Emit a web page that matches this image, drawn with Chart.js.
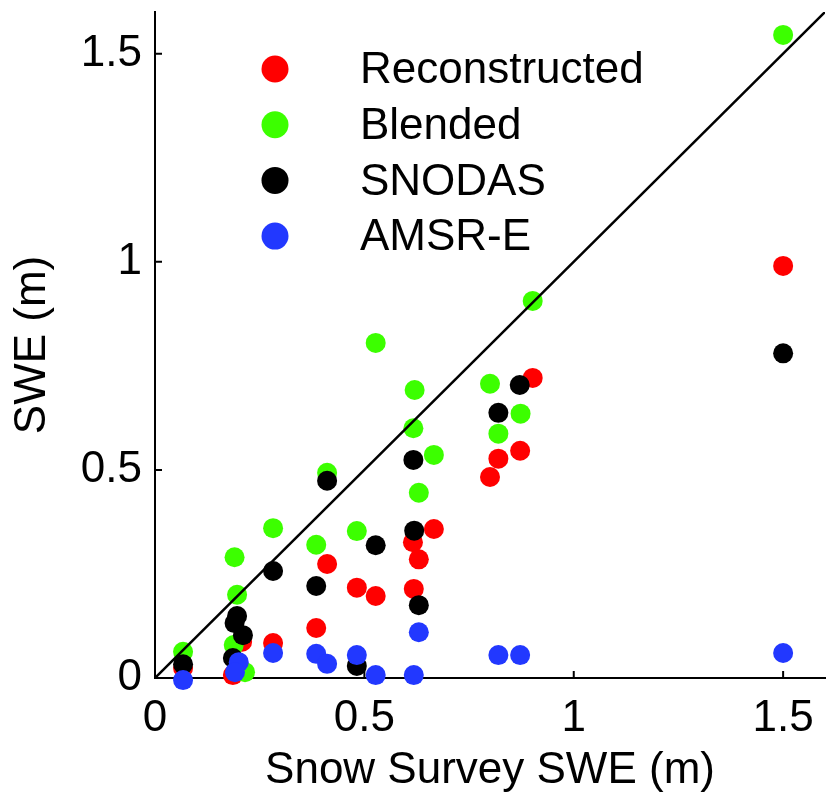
<!DOCTYPE html>
<html>
<head>
<meta charset="utf-8">
<script src="https://cdn.jsdelivr.net/npm/chart.js@4.4.1/dist/chart.umd.min.js"></script>
<style>
  html, body { margin: 0; padding: 0; background: #fff; }
  canvas { display: block; }
</style>
</head>
<body>
<canvas id="sweChart" width="827" height="799"></canvas>
<script>
// series labels (legend order)
const seriesNames = ['Reconstructed', 'Blended', 'SNODAS', 'AMSR-E'];

// snow survey SWE (m) vs product SWE (m)
const reconX = [0.067, 0.186, 0.208, 0.282, 0.385, 0.411, 0.482, 0.527, 0.618, 0.616, 0.630, 0.666, 0.800, 0.820, 0.872, 0.902, 1.500];
const reconY = [0.024, 0.007, 0.087, 0.084, 0.120, 0.274, 0.217, 0.197, 0.214, 0.326, 0.285, 0.358, 0.483, 0.527, 0.546, 0.721, 0.990];

const blendX = [0.067, 0.190, 0.196, 0.188, 0.215, 0.282, 0.385, 0.411, 0.482, 0.527, 0.620, 0.617, 0.630, 0.666, 0.800, 0.820, 0.873, 0.902, 1.500];
const blendY = [0.063, 0.290, 0.200, 0.079, 0.014, 0.360, 0.320, 0.493, 0.353, 0.805, 0.692, 0.600, 0.445, 0.536, 0.707, 0.587, 0.635, 0.906, 1.545];

const snodasX = [0.067, 0.196, 0.190, 0.210, 0.186, 0.282, 0.385, 0.411, 0.482, 0.527, 0.617, 0.619, 0.630, 0.820, 0.871, 1.500];
const snodasY = [0.033, 0.149, 0.132, 0.103, 0.048, 0.257, 0.221, 0.474, 0.029, 0.319, 0.524, 0.354, 0.175, 0.637, 0.704, 0.780];

const amsrX = [0.067, 0.200, 0.191, 0.282, 0.385, 0.411, 0.482, 0.527, 0.618, 0.630, 0.820, 0.872, 1.500];
const amsrY = [-0.005, 0.038, 0.014, 0.060, 0.058, 0.034, 0.055, 0.007, 0.007, 0.110, 0.055, 0.055, 0.060];

// 1:1 line
const oneToOneX = [0, 1.6];
const oneToOneY = [0, 1.6];

// ticks
const xTicks = [0, 0.5, 1, 1.5];
const yTicks = [0, 0.5, 1, 1.5];
const tickLabels = ['0', '0.5', '1', '1.5'];

const colors = ['#ff0000', '#3cff00', '#000000', '#2238ff'];

function pts(xs, ys) {
    return xs.map((x, i) => ({ x: x, y: ys[i] }));
}

Chart.defaults.font.family = '"Liberation Sans", Arial, Helvetica, sans-serif';
Chart.defaults.font.size = 44;
Chart.defaults.color = '#000';

// inward tick marks + legend inside the axes
const overlay = {
    id: 'overlay',
    afterDatasetsDraw(chart) {
        const ctx = chart.ctx;
        const xs = chart.scales.x, ys = chart.scales.y;
        const area = chart.chartArea;
        ctx.save();
        ctx.strokeStyle = '#000';
        ctx.lineWidth = 2;
        ctx.beginPath();
        xTicks.forEach(v => {
            const px = xs.getPixelForValue(v);
            ctx.moveTo(px, area.bottom);
            ctx.lineTo(px, area.bottom - 7);
        });
        yTicks.forEach(v => {
            const py = ys.getPixelForValue(v);
            ctx.moveTo(area.left, py);
            ctx.lineTo(area.left + 7, py);
        });
        ctx.stroke();

        // legend
        ctx.font = '44px "Liberation Sans", Arial, Helvetica, sans-serif';
        ctx.textBaseline = 'middle';
        ctx.textAlign = 'left';
        seriesNames.forEach((name, i) => {
            const cy = area.top + 57 + i * 55.7;
            ctx.fillStyle = colors[i];
            ctx.beginPath();
            ctx.arc(area.left + 120, cy, 13.5, 0, Math.PI * 2);
            ctx.fill();
            ctx.fillStyle = '#000';
            ctx.fillText(name, area.left + 205, cy + 2);
        });
        ctx.restore();
    }
};

const seriesX = [reconX, blendX, snodasX, amsrX];
const seriesY = [reconY, blendY, snodasY, amsrY];

const datasets = seriesNames.map((name, i) => ({
    label: name,
    data: pts(seriesX[i], seriesY[i]),
    backgroundColor: colors[i],
    borderWidth: 0,
    pointRadius: 10,
    pointHoverRadius: 10,
    clip: false,
    order: 4 - i
}));

datasets.push({
    type: 'line',
    label: '1:1',
    data: pts(oneToOneX, oneToOneY),
    borderColor: '#000',
    borderWidth: 2.5,
    pointRadius: 0,
    fill: false,
    order: 0
});

new Chart(document.getElementById('sweChart').getContext('2d'), {
    type: 'scatter',
    data: { datasets: datasets },
    options: {
        responsive: false,
        animation: false,
        events: [],
        layout: { autoPadding: false, padding: { top: 12, right: 2, left: 0, bottom: 0 } },
        plugins: { legend: { display: false }, tooltip: { enabled: false } },
        scales: {
            x: {
                type: 'linear',
                min: 0,
                max: 1.6,
                afterFit: s => { s.height = 121; s.paddingLeft = 0; s.paddingRight = 0; },
                afterBuildTicks: s => { s.ticks = xTicks.map(v => ({ value: v })); },
                grid: { drawOnChartArea: false, drawTicks: false },
                border: { display: true, color: '#000', width: 2 },
                ticks: {
                    padding: 14,
                    maxRotation: 0,
                    callback: (v) => tickLabels[xTicks.indexOf(v)]
                },
                title: {
                    display: true,
                    text: 'Snow Survey SWE (m)',
                    font: { size: 44, lineHeight: 1.2 },
                    padding: { top: 0, bottom: 2 }
                }
            },
            y: {
                type: 'linear',
                min: 0,
                max: 1.6,
                afterFit: s => { s.width = 155; s.paddingTop = 0; s.paddingBottom = 0; },
                afterBuildTicks: s => { s.ticks = yTicks.map(v => ({ value: v })); },
                grid: { drawOnChartArea: false, drawTicks: false },
                border: { display: true, color: '#000', width: 2 },
                ticks: {
                    padding: 13,
                    callback: (v) => tickLabels[yTicks.indexOf(v)]
                },
                title: {
                    display: true,
                    text: 'SWE (m)',
                    font: { size: 44, lineHeight: 1.2 },
                    padding: { top: 6, bottom: 0 }
                }
            }
        }
    },
    plugins: [overlay]
});
</script>
</body>
</html>
